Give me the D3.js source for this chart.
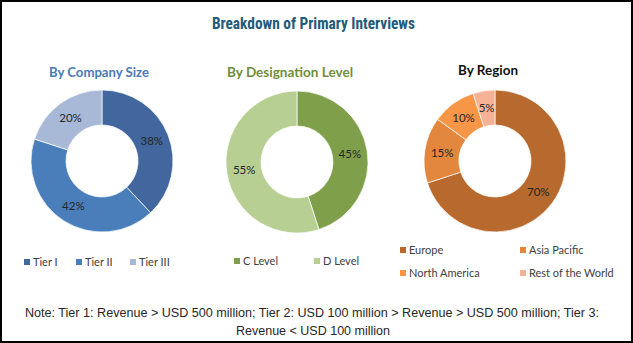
<!DOCTYPE html>
<html>
<head>
<meta charset="utf-8">
<script src="https://cdn.jsdelivr.net/npm/d3@7"></script>
<style>
  html, body { margin: 0; padding: 0; background: #fff; }
  svg { display: block; }
</style>
</head>
<body>
<svg id="chart" width="633" height="343"></svg>
<script>
// ---- Data ----
const companyLabels = ["Tier I", "Tier II", "Tier III"];
const companyValues = [38, 42, 20];
const designationLabels = ["C Level", "D Level"];
const designationValues = [45, 55];
const regionLabels = ["Europe", "Asia Pacific", "North America", "Rest of the World"];
const regionValues = [70, 15, 10, 5];

const titleText = "Breakdown of Primary Interviews";
const subtitles = ["By Company Size", "By Designation Level", "By Region"];
const noteLines = [
  "Note: Tier 1: Revenue > USD 500 million; Tier 2: USD 100 million > Revenue > USD 500 million; Tier 3:",
  "Revenue < USD 100 million"
];

// ---- Styles ----
const companyColors = ["#41679e", "#4a7ebb", "#a7b9d7"];
const designationColors = ["#7f9f4a", "#b7cf92"];
const regionColors = ["#b7692e", "#e2873d", "#f79646", "#f5b297"];
const subtitleColors = ["#4a7ab5", "#6f8e3a", "#111111"];

const svg = d3.select("#chart");
const W = 633, H = 343;

svg.append("rect").attr("x", 1).attr("y", 1).attr("width", W - 2).attr("height", H - 2)
  .attr("fill", "#fff").attr("stroke", "#000").attr("stroke-width", 2);

svg.append("text").attr("x", 313.5).attr("y", 29).attr("text-anchor", "middle")
  .attr("font-family", "'Liberation Sans Narrow', 'Roboto Condensed', 'Liberation Sans', sans-serif")
  .attr("font-stretch", "condensed")
  .attr("font-weight", "bold").attr("font-size", 16).attr("fill", "#1f5b7a")
  .attr("textLength", 203).attr("lengthAdjust", "spacingAndGlyphs")
  .text(titleText);

const charts = [
  { cx: 102, cy: 161, labels: companyLabels, values: companyValues, colors: companyColors, sub: subtitles[0], subX: 99, subW: 100, subColor: subtitleColors[0] },
  { cx: 297, cy: 162, labels: designationLabels, values: designationValues, colors: designationColors, sub: subtitles[1], subX: 290, subW: 126, subColor: subtitleColors[1] },
  { cx: 495, cy: 161, labels: regionLabels, values: regionValues, colors: regionColors, sub: subtitles[2], subX: 488, subW: 60, subColor: subtitleColors[2] }
];

const outerR = 71, innerR = 36;
const arc = d3.arc().innerRadius(innerR).outerRadius(outerR);
const pie = d3.pie().sort(null).value(d => d);

charts.forEach((c, ci) => {
  svg.append("text").attr("x", c.subX).attr("y", ci === 2 ? 75 : 77).attr("text-anchor", "middle")
    .attr("font-family", "Lato, 'Open Sans', sans-serif").attr("font-weight", "bold")
    .attr("font-size", 13.5).attr("fill", c.subColor)
    .attr("textLength", c.subW).attr("lengthAdjust", "spacingAndGlyphs")
    .text(c.sub);

  const g = svg.append("g").attr("transform", `translate(${c.cx},${c.cy})`);
  const arcs = pie(c.values);
  g.selectAll("path").data(arcs).join("path")
    .attr("d", arc)
    .attr("fill", (d, i) => c.colors[i])
    .attr("stroke", "#ffffff").attr("stroke-width", 0.7);
  g.selectAll("text").data(arcs).join("text")
    .attr("transform", d => `translate(${arc.centroid(d)})`)
    .attr("text-anchor", "middle").attr("dy", "0.35em")
    .attr("font-family", "Lato, 'Open Sans', sans-serif").attr("font-size", 11.5)
    .attr("fill", "#262626")
    .text(d => d.data + "%");
});

// ---- Legends ----
const legendFont = "Lato, 'Open Sans', sans-serif";
function legendItem(x, y, color, label) {
  svg.append("rect").attr("x", x).attr("y", y - 3).attr("width", 6).attr("height", 6).attr("fill", color);
  svg.append("text").attr("x", x + 9).attr("y", y).attr("dy", "0.35em")
    .attr("font-family", legendFont).attr("font-size", 11).attr("fill", "#404040")
    .text(label);
}
const companyLegendX = [24, 76, 130];
companyLabels.forEach((l, i) => legendItem(companyLegendX[i], 262, companyColors[i], l));
const designationLegendX = [234, 314];
designationLabels.forEach((l, i) => legendItem(designationLegendX[i], 261, designationColors[i], l));
const regionLegendPos = [[400, 250], [520, 250], [400, 273], [520, 273]];
regionLabels.forEach((l, i) => legendItem(regionLegendPos[i][0], regionLegendPos[i][1], regionColors[i], l));

// ---- Note ----
svg.append("text").attr("x", 312).attr("y", 317).attr("text-anchor", "middle")
  .attr("font-family", "'Liberation Sans', Arial, sans-serif").attr("font-size", 12).attr("fill", "#262626")
  .attr("textLength", 574).attr("lengthAdjust", "spacingAndGlyphs")
  .text(noteLines[0]);
svg.append("text").attr("x", 313).attr("y", 335).attr("text-anchor", "middle")
  .attr("font-family", "'Liberation Sans', Arial, sans-serif").attr("font-size", 12).attr("fill", "#262626")
  .attr("textLength", 154).attr("lengthAdjust", "spacingAndGlyphs")
  .text(noteLines[1]);
</script>
</body>
</html>
